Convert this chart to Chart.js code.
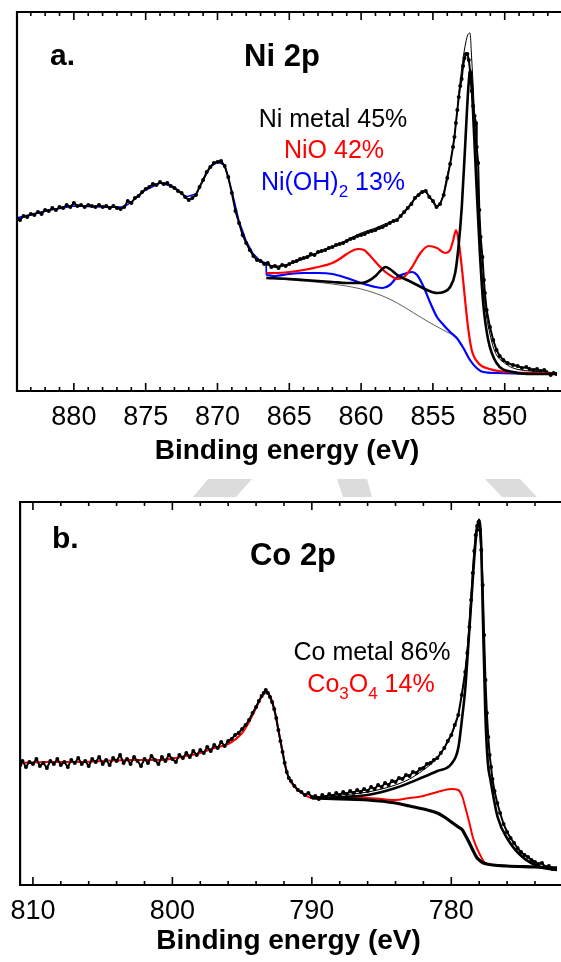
<!DOCTYPE html>
<html>
<head>
<meta charset="utf-8">
<title>Ni 2p / Co 2p XPS</title>
<script src="https://cdn.jsdelivr.net/npm/chart.js@4.4.0/dist/chart.umd.min.js"></script>
<style>
    html, body { margin: 0; padding: 0; background: #fff; overflow: hidden; }
    #wrap { position: relative; width: 561px; height: 962px; }
    #wrap canvas { position: absolute; left: 0; }
    #chartA { top: 0; }
    #chartB { top: 481px; }
    #marks { position: absolute; left: 0; top: 0; }
</style>
</head>
<body>
<div id="wrap">
    <canvas id="chartA" width="561" height="481"></canvas>
    <canvas id="chartB" width="561" height="481"></canvas>
    <svg id="marks" width="561" height="962">
        <polygon points="208,479 252,479 236,497 193,497" fill="#dcdcdc"/>
        <polygon points="337,479 367,479 372,497 343,497" fill="#dcdcdc"/>
        <polygon points="485,479 520,479 537,497 502,497" fill="#dcdcdc"/>
    </svg>
</div>
<script>
/* ============================================
   XPS SPECTRA - Ni 2p (a) and Co 2p (b)
   values are [binding energy (eV), intensity (a.u.)]
   ============================================ */

// ---- Panel a: Ni 2p ----
const niTicks = [880, 875, 870, 865, 860, 855, 850];

const niData = [
    [884.0,173],[883.75,171],[883.5,175],[883.25,174],[883.0,177],[882.75,176],[882.5,179],[882.25,177],
    [882.0,181],[881.75,180],[881.5,183],[881.25,181],[881.0,184],[880.75,183],[880.5,186],[880.25,184],
    [880.0,188],[879.75,185],[879.5,186],[879.25,184],[879.0,186],[878.75,185],[878.5,184],[878.25,186],
    [878.0,184],[877.75,185],[877.5,183],[877.25,185],[877.0,183],[876.75,182],[876.5,184],[876.25,190],
    [876.0,188],[875.75,193],[875.5,195],[875.25,199],[875.0,202],[874.75,204],[874.5,207],[874.25,206],
    [874.0,209],[873.75,207],[873.5,208],[873.25,205],[873.0,203],[872.75,200],[872.5,198],[872.25,194],
    [872.0,191],[871.75,193],[871.5,196],[871.25,204],[871.0,211],[870.75,219],[870.5,224],[870.25,228],
    [870.0,229],[869.75,230],[869.5,225],[869.25,214],[869.0,198],[868.75,180],[868.5,168],[868.25,156],
    [868.0,148],[867.75,141],[867.5,135],[867.25,131],[867.0,130],[866.75,127],[866.5,128],[866.25,124],
    [866.0,125],[865.75,123],[865.5,126],[865.25,125],[865.0,127],[864.75,129],[864.5,130],[864.25,132],
    [864.0,133],[863.75,134],[863.5,137],[863.25,136],[863.0,139],[862.75,140],[862.5,141],[862.25,143],
    [862.0,144],[861.75,146],[861.5,147],[861.25,148],[861.0,150],[860.75,152],[860.5,153],[860.25,155],
    [860.0,156],[859.75,157],[859.5,159],[859.25,160],[859.0,161],[858.75,163],[858.5,164],[858.25,166],
    [858.0,168],[857.75,170],[857.5,171],[857.25,175],[857.0,179],[856.75,183],[856.5,187],[856.25,193],
    [856.0,196],[855.75,199],[855.5,200],[855.25,194],[855.0,190],[854.75,184],[854.5,187],[854.25,196],
    [854.0,213],[853.8,227],[853.6,244],[853.5,254],[853.4,268],[853.3,281],[853.2,294],[853.1,305],
    [853.0,312],[852.9,325],[852.8,333],[852.7,337],[852.6,337],[852.5,331],[852.4,318],[852.3,300],
    [852.2,285],[852.1,275],[852.0,268],[851.95,244],[851.85,228],[851.77,181],[851.68,154],[851.55,134],
    [851.45,111],[851.38,98],[851.26,81],[851.03,64],[850.8,51],[850.57,41],[850.35,35],[850.1,31],
    [849.8,28],[849.42,26],[849.1,25],[848.8,23],[848.5,24],[848.27,22],[848.0,21],[847.75,22],
    [847.5,20],[847.25,21],[847.1,19],[846.8,16],[846.6,18],[846.4,17]
];

const niEnvelope = [
    [866.6,126],[866.0,125],[865.0,127],[864.0,132],[863.0,138],[862.0,144],[861.0,151],[860.0,158],
    [859.0,163],[858.0,169],[857.48,171],[857.02,179],[856.57,187],[856.1,196],[855.64,200],[855.18,193],
    [854.72,184],[854.49,188],[854.26,198],[854.03,214],[853.8,228],[853.61,244],[853.39,268],[853.22,294],
    [853.0,322],[852.76,345],[852.6,355],[852.42,358],[852.3,332],[852.18,300],[852.0,240],[851.84,188],
    [851.73,150],[851.5,104],[851.26,74],[851.03,57],[850.8,44],[850.57,36],[850.11,29],[849.42,23],
    [848.27,20],[847.1,19],[846.36,18]
];

const niMetal = [
    [866.6,113],[865.0,112],[864.0,111],[863.0,110],[862.0,109],[861.0,108],[860.0,108],[859.5,110],
    [859.0,115],[858.6,121],[858.3,124],[858.0,122],[857.48,116],[856.79,111],[856.1,106],[855.41,101],
    [854.72,98],[854.26,99],[853.8,104],[853.45,118],[853.22,144],[852.99,184],[852.76,244],[852.53,304],
    [852.4,321],[852.3,310],[852.18,271],[851.96,204],[851.73,138],[851.5,88],[851.15,51],[850.57,28],
    [849.42,19],[848.0,17],[846.36,17]
];

const niOxide = [
    [866.6,118],[866.0,118],[865.0,119],[864.0,121],[863.0,124],[862.0,128],[861.5,132],[861.0,137],
    [860.5,141],[860.2,142],[859.8,141],[859.3,134],[858.8,126],[858.3,119],[857.8,114],[857.48,112],
    [857.02,114],[856.45,124],[855.87,138],[855.3,145],[854.72,143],[854.15,138],[853.8,141],[853.6,150],
    [853.39,161],[853.22,151],[852.99,124],[852.76,91],[852.53,61],[852.3,41],[851.84,28],[851.04,22],
    [849.88,19],[848.0,18],[846.36,17]
];

const niHydroxide = [
    [866.6,116],[866.0,115],[865.0,117],[864.0,118],[863.0,118],[862.0,117],[861.0,113],[860.0,108],
    [859.0,104],[858.5,103],[858.0,106],[857.48,114],[857.02,117],[856.45,119],[856.1,116],[855.64,104],
    [855.18,88],[854.72,74],[854.26,66],[853.8,59],[853.34,53],[852.88,43],[852.42,31],[851.96,23],
    [851.5,19],[850.57,18],[846.36,17]
];

// fit line running under the 2p1/2 part of the data
const niHydroxideHigh = [
    [884,173],[882,180],[880,185],[878,184],[876.5,184],[876,189],[875,201],[874,208],[873,204],
    [872.2,194],[871.5,197],[871,211],[870.5,224],[870,229],[869.5,226],[869,200],[868.5,170],
    [868,150],[867.5,137],[867,130],[866.62,128],[866.6,116]
];

const niBackground = [
    [866.6,113],[865.0,111],[864.0,110],[862.0,107],[860.0,102],[858.5,95],[857.48,88],[856.33,78],
    [855.18,68],[854.03,59],[853.34,53],[852.88,43],[852.42,31],[851.96,23],[851.5,19],[850.57,18],
    [846.36,17]
];

// ---- Panel b: Co 2p ----
const coTicks = [810, 800, 790, 780];

const coData = [
    [810.9,120],[810.75,124],[810.5,118],[810.25,123],[810.0,121],[809.75,126],[809.5,119],[809.25,122],
    [809.0,117],[808.75,124],[808.5,121],[808.25,126],[808.0,120],[807.75,123],[807.5,118],[807.25,125],
    [807.0,122],[806.75,127],[806.5,121],[806.25,124],[806.0,119],[805.75,126],[805.5,123],[805.25,128],
    [805.0,121],[804.75,125],[804.5,120],[804.25,127],[804.0,124],[803.75,130],[803.5,122],[803.25,126],
    [803.0,121],[802.75,128],[802.5,124],[802.25,119],[802.0,126],[801.75,122],[801.5,129],[801.25,125],
    [801.0,121],[800.75,128],[800.5,124],[800.25,130],[800.0,126],[799.75,123],[799.5,130],[799.25,127],
    [799.0,132],[798.75,128],[798.5,134],[798.25,130],[798.0,135],[797.75,132],[797.5,138],[797.25,134],
    [797.0,140],[796.75,137],[796.5,143],[796.25,139],[796.0,144],[795.75,146],[795.5,150],[795.25,152],
    [795.0,156],[794.75,160],[794.5,165],[794.25,172],[794.0,178],[793.8,184],[793.6,189],[793.45,192],
    [793.3,195],[793.15,192],[793.0,188],[792.85,183],[792.7,176],[792.55,167],[792.4,155],[792.25,144],
    [792.1,133],[791.95,122],[791.8,113],[791.65,107],[791.5,104],[791.25,99],[791.0,95],[790.75,93],
    [790.5,90],[790.25,92],[790.0,88],[789.75,89],[789.5,86],[789.25,90],[789.0,88],[788.75,91],
    [788.5,89],[788.25,92],[788.0,90],[787.75,93],[787.5,91],[787.25,94],[787.0,92],[786.75,95],
    [786.5,93],[786.25,96],[786.0,94],[785.75,98],[785.5,96],[785.25,100],[785.0,98],[784.75,102],
    [784.5,100],[784.25,104],[784.0,103],[783.75,107],[783.5,106],[783.25,110],[783.0,109],[782.75,113],
    [782.5,112],[782.25,116],[782.0,117],[781.75,121],[781.5,122],[781.25,125],[781.0,127],[780.75,132],
    [780.5,137],[780.25,144],[780.0,150],[779.75,160],[779.5,170],[779.25,190],[779.0,213],[778.85,232],
    [778.7,258],[778.58,285],[778.46,312],[778.35,334],[778.25,350],[778.15,359],[778.05,363],[777.95,355],
    [777.85,335],[777.75,300],[777.65,250],[777.55,205],[777.45,172],[777.35,148],[777.25,130],[777.15,118],
    [777.05,106],[776.9,94],[776.7,82],[776.5,72],[776.25,61],[776.0,53],[775.75,47],[775.5,42],
    [775.25,37],[775.0,33],[774.75,30],[774.5,28],[774.25,25],[774.0,23],[773.75,21],[773.5,22],
    [773.25,18],[773.0,19],[772.75,16],[772.4,17]
];

const coEnvelope = [
    [790,88],[788,90],[786,93],[784,100],[783,106],[782,115],[781,127],[780.5,137],[780,150],
    [779.5,170],[779.2,195],[779,215],[778.8,245],[778.6,285],[778.4,320],[778.2,354],[778,366],
    [777.85,340],[777.74,273],[777.56,175],[777.38,124],[777.19,106],[776.68,69],[775.92,46],
    [774.9,29],[773.64,19],[772.42,16]
];

const coMetal = [
    [790,87],[788,88],[786,90],[784,97],[782,108],[781,114],[780,121],[779.5,137],[779.2,170],
    [779,196],[778.8,236],[778.6,277],[778.4,318],[778.2,352],[778,365],[777.85,338],[777.74,272],
    [777.56,172],[777.38,122],[777.19,105],[776.68,68],[775.92,45],[774.9,28],[773.64,18],[772.42,15]
];

const coOxide = [
    [810.9,122],[809,123],[807,123],[805,124],[803,125],[801,125],[799,129],[798,132],[797,137],
    [796,141],[795,152],[794.5,163],[794,177],[793.6,188],[793.3,193],[793,189],[792.7,176],
    [792.4,155],[792.1,133],[791.8,113],[791.5,103],[791,95],[790.5,90],[790,87],[788,87],[786,87],
    [785,86],[784,85],[783,87],[782,89],[781,93],[780,96],[779.5,95],[779.2,88],[779,78],[778.7,62],
    [778.46,48],[778.2,38],[778,32],[777.7,24],[777.4,21],[777,20],[776,19],[774,18],[772.4,17]
];

const coBackground = [
    [790,87],[788,86],[786,85],[784,82],[783,79],[782,76],[781,72],[780.5,68],[780,63],[779.5,58],
    [779.2,55],[779,50],[778.7,42],[778.46,35],[778.2,28],[778,25],[777.7,22],[777,20],[776,19],
    [774,18],[772.4,17]
];

Chart.defaults.font.family = "'Liberation Sans', Arial, sans-serif";
Chart.defaults.color = '#000';

function toPoints(pairs) {
    return pairs.map(p => ({ x: p[0], y: p[1] }));
}

function fitLine(pairs, color, width) {
    return {
        data: toPoints(pairs),
        showLine: true,
        borderColor: color,
        borderWidth: width,
        pointRadius: 0,
        cubicInterpolationMode: 'monotone'
    };
}

function dataLine(pairs) {
    return {
        data: toPoints(pairs),
        showLine: true,
        borderColor: '#000',
        borderWidth: 2,
        pointRadius: 2,
        pointBackgroundColor: '#000',
        pointBorderWidth: 0
    };
}

/**
 * Frame and inward ticks on top and bottom edges
 */
const framePlugin = {
    id: 'frame',
    afterDatasetsDraw(chart, args, opts) {
        const { ctx, chartArea: a, scales: { x } } = chart;
        ctx.save();
        ctx.strokeStyle = '#000';
        ctx.lineWidth = 2.2;
        ctx.beginPath();
        ctx.moveTo(a.right + 4, a.top);
        ctx.lineTo(a.left, a.top);
        ctx.lineTo(a.left, a.bottom);
        ctx.lineTo(a.right + 4, a.bottom);
        ctx.stroke();

        ctx.lineWidth = 1.6;
        ctx.beginPath();
        const first = Math.ceil(x.min / opts.minor);
        const last = Math.floor(x.max / opts.minor);
        for (let i = first; i <= last; i++) {
            const v = i * opts.minor;
            const px = x.getPixelForValue(v);
            const len = v % opts.major === 0 ? 8 : 4;
            ctx.moveTo(px, a.bottom);
            ctx.lineTo(px, a.bottom - len);
            ctx.moveTo(px, a.top);
            ctx.lineTo(px, a.top + len);
        }
        ctx.stroke();
        ctx.restore();
    }
};

/**
 * Panel letter, element title and component labels (with subscripts)
 */
const textPlugin = {
    id: 'texts',
    afterDraw(chart, args, opts) {
        const ctx = chart.ctx;
        ctx.save();
        ctx.textBaseline = 'alphabetic';
        opts.items.forEach(item => {
            const parts = item.parts;
            const size = item.size;
            const subSize = Math.round(size * 0.68);
            const weight = item.bold ? 'bold ' : '';
            let total = 0;
            parts.forEach(p => {
                ctx.font = weight + (p.sub ? subSize : size) + "px 'Liberation Sans', Arial, sans-serif";
                p.w = ctx.measureText(p.t).width;
                total += p.w;
            });
            let xx = item.align === 'left' ? item.x : item.x - total / 2;
            ctx.fillStyle = item.color;
            ctx.textAlign = 'left';
            parts.forEach(p => {
                ctx.font = weight + (p.sub ? subSize : size) + "px 'Liberation Sans', Arial, sans-serif";
                ctx.fillText(p.t, xx, item.y + (p.sub ? 7 : 0));
                xx += p.w;
            });
        });
        ctx.restore();
    }
};

function makeOptions(cfg) {
    return {
        responsive: false,
        animation: false,
        events: [],
        layout: { padding: { left: 17, top: cfg.top, right: 0, bottom: 0 } },
        plugins: {
            legend: { display: false },
            tooltip: { enabled: false },
            frame: { major: cfg.major, minor: cfg.minor },
            texts: { items: cfg.texts }
        },
        scales: {
            x: {
                type: 'linear',
                reverse: true,
                min: cfg.min,
                max: cfg.max,
                afterBuildTicks: scale => {
                    scale.ticks = cfg.ticks.map(v => ({ value: v }));
                },
                afterFit: scale => {
                    scale.height = cfg.axisHeight;
                },
                grid: { display: false, drawTicks: false },
                border: { display: false },
                ticks: {
                    autoSkip: false,
                    maxRotation: 0,
                    padding: cfg.tickPad,
                    color: '#000',
                    font: { size: 27 }
                },
                title: {
                    display: true,
                    text: 'Binding energy (eV)',
                    color: '#000',
                    font: { size: 28, weight: 'bold' },
                    padding: { top: 0, bottom: cfg.titlePad }
                }
            },
            y: { display: false, min: 0, max: cfg.yMax }
        }
    };
}

// Panel a
new Chart(document.getElementById('chartA'), {
    type: 'scatter',
    data: {
        datasets: [
            fitLine(niMetal, '#000', 2.6),
            fitLine(niOxide, '#ff0000', 2.2),
            fitLine(niHydroxide, '#0000ff', 2.2),
            fitLine(niEnvelope, '#000', 1),
            fitLine(niBackground, '#333', 0.8),
            dataLine(niData),
            { data: toPoints(niHydroxideHigh), showLine: true, borderColor: '#0000ff', borderWidth: 1.5, pointRadius: 0 }
        ]
    },
    options: makeOptions({
        top: 12, min: 846.36, max: 883.96, ticks: niTicks, major: 5, minor: 1,
        yMax: 379, axisHeight: 90, tickPad: 10, titlePad: 13,
        texts: [
            { parts: [{ t: 'a.' }], x: 50, y: 65, size: 30, bold: true, align: 'left', color: '#000' },
            { parts: [{ t: 'Ni 2p' }], x: 282, y: 66, size: 31, bold: true, color: '#000' },
            { parts: [{ t: 'Ni metal 45%' }], x: 333, y: 127, size: 25, color: '#000' },
            { parts: [{ t: 'NiO 42%' }], x: 334, y: 158, size: 25, color: '#ff0000' },
            { parts: [{ t: 'Ni(OH)' }, { t: '2', sub: true }, { t: ' 13%' }], x: 333, y: 190, size: 25, color: '#0000ff' }
        ]
    }),
    plugins: [framePlugin, textPlugin]
});

// Panel b
new Chart(document.getElementById('chartB'), {
    type: 'scatter',
    data: {
        datasets: [
            fitLine(coMetal, '#000', 2.6),
            fitLine(coEnvelope, '#000', 1),
            fitLine(coBackground, '#000', 3.2),
            dataLine(coData),
            fitLine(coOxide, '#ff0000', 2)
        ]
    },
    options: makeOptions({
        top: 21, min: 772.42, max: 810.92, ticks: coTicks, major: 10, minor: 2,
        yMax: 383, axisHeight: 77, tickPad: 10, titlePad: 4,
        texts: [
            { parts: [{ t: 'b.' }], x: 52, y: 67, size: 30, bold: true, align: 'left', color: '#000' },
            { parts: [{ t: 'Co 2p' }], x: 293, y: 84, size: 31, bold: true, color: '#000' },
            { parts: [{ t: 'Co metal 86%' }], x: 372, y: 179, size: 25, color: '#000' },
            { parts: [{ t: 'Co' }, { t: '3', sub: true }, { t: 'O' }, { t: '4', sub: true }, { t: ' 14%' }], x: 371, y: 211, size: 25, color: '#ff0000' }
        ]
    }),
    plugins: [framePlugin, textPlugin]
});
</script>
</body>
</html>
